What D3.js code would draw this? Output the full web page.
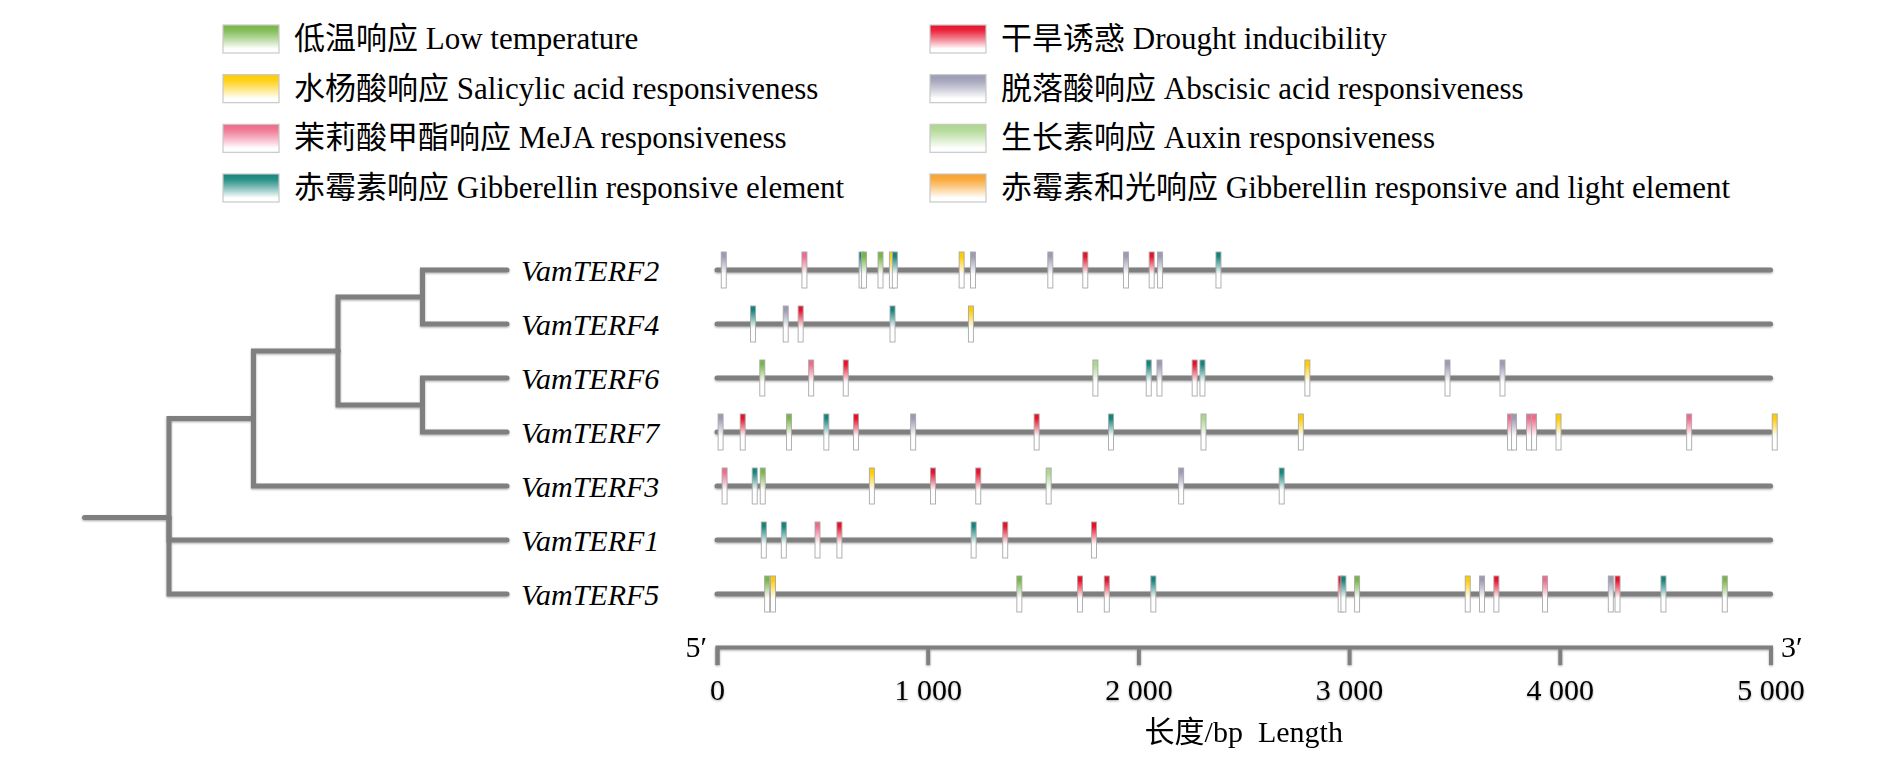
<!DOCTYPE html>
<html>
<head>
<meta charset="utf-8">
<script src="https://cdn.jsdelivr.net/npm/d3@7"></script>
<style>
  body { margin: 0; background: #fff; }
  text { font-family: "Liberation Serif", "Times New Roman", "Noto Sans CJK SC", serif; fill: #000; }
</style>
</head>
<body>
<div id="chart"></div>
<script>
// gene order top to bottom
const genes = ["VamTERF2", "VamTERF4", "VamTERF6", "VamTERF7", "VamTERF3", "VamTERF1", "VamTERF5"];

// element categories (legend order: left column then right column)
const elementKeys = ["LT", "SA", "MeJA", "GA", "DR", "ABA", "AUX", "GAL"];
const elementLabels = [
  "低温响应 Low temperature",
  "水杨酸响应 Salicylic acid responsiveness",
  "茉莉酸甲酯响应 MeJA responsiveness",
  "赤霉素响应 Gibberellin responsive element",
  "干旱诱惑 Drought inducibility",
  "脱落酸响应 Abscisic acid responsiveness",
  "生长素响应 Auxin responsiveness",
  "赤霉素和光响应 Gibberellin responsive and light element"
];
const elementColors = ["#78b648", "#ffcc00", "#ee6b8b", "#12857b", "#e8102a", "#9b9bb5", "#acd68e", "#f9a22b"];

// cis-element sites: [position bp, element]
const sitesTERF2 = [[32, "ABA"], [415, "MeJA"], [686, "GA"], [698, "LT"], [776, "LT"], [830, "SA"], [844, "GA"],
  [1161, "SA"], [1215, "ABA"], [1582, "ABA"], [1748, "DR"], [1941, "ABA"], [2063, "DR"], [2103, "ABA"], [2380, "GA"]];
const sitesTERF4 = [[171, "GA"], [326, "ABA"], [397, "DR"], [833, "GA"], [1205, "SA"]];
const sitesTERF6 = [[215, "LT"], [447, "MeJA"], [611, "DR"], [1796, "AUX"], [2049, "GA"], [2100, "ABA"], [2267, "DR"],
  [2304, "GA"], [2802, "SA"], [3467, "ABA"], [3728, "ABA"]];
const sitesTERF7 = [[17, "ABA"], [122, "DR"], [342, "LT"], [519, "GA"], [660, "DR"], [931, "ABA"], [1517, "DR"],
  [1870, "GA"], [2309, "AUX"], [2771, "SA"], [3764, "MeJA"], [3783, "ABA"], [3854, "MeJA"], [3878, "MeJA"],
  [3994, "SA"], [4614, "MeJA"], [5020, "SA"]];
const sitesTERF3 = [[36, "MeJA"], [179, "GA"], [217, "LT"], [735, "SA"], [1025, "DR"], [1240, "DR"], [1574, "AUX"],
  [2203, "ABA"], [2680, "GA"]];
const sitesTERF1 = [[222, "GA"], [317, "GA"], [477, "MeJA"], [581, "DR"], [1218, "GA"], [1368, "DR"], [1789, "DR"]];
const sitesTERF5 = [[238, "LT"], [266, "SA"], [1435, "LT"], [1723, "DR"], [1850, "DR"], [2071, "GA"], [2960, "DR"],
  [2973, "GA"], [3038, "LT"], [3563, "SA"], [3631, "ABA"], [3699, "DR"], [3930, "MeJA"], [4242, "ABA"],
  [4274, "DR"], [4492, "GA"], [4783, "LT"]];

const geneLength = [5000, 5000, 5000, 5000, 5000, 5000, 5000];
const axisTicks = [0, 1000, 2000, 3000, 4000, 5000];

// phylogeny
const treeData = {children: [
  {children: [
    {children: [
      {children: [{name: "VamTERF2"}, {name: "VamTERF4"}]},
      {children: [{name: "VamTERF6"}, {name: "VamTERF7"}]}
    ]},
    {name: "VamTERF3"}
  ]},
  {name: "VamTERF1"},
  {name: "VamTERF5"}
]};

const sitesByGene = {
  VamTERF2: sitesTERF2, VamTERF4: sitesTERF4, VamTERF6: sitesTERF6, VamTERF7: sitesTERF7,
  VamTERF3: sitesTERF3, VamTERF1: sitesTERF1, VamTERF5: sitesTERF5
};

const W = 1890, H = 768;
const svg = d3.select("#chart").append("svg").attr("width", W).attr("height", H);

const defs = svg.append("defs");
const shadow = defs.append("filter").attr("id", "shadow")
  .attr("x", "-5%").attr("y", "-100%").attr("width", "110%").attr("height", "300%");
shadow.append("feDropShadow").attr("dx", 0).attr("dy", 1).attr("stdDeviation", 1.2)
  .attr("flood-color", "#000").attr("flood-opacity", 0.35);

const colorOf = d3.scaleOrdinal().domain(elementKeys).range(elementColors);

elementKeys.forEach(function (k) {
  let g = defs.append("linearGradient").attr("id", "mk-" + k).attr("x1", 0).attr("x2", 0).attr("y1", 0).attr("y2", 1);
  g.append("stop").attr("offset", "0%").attr("stop-color", colorOf(k));
  g.append("stop").attr("offset", "12%").attr("stop-color", colorOf(k));
  g.append("stop").attr("offset", "62%").attr("stop-color", "#fff");
  g.append("stop").attr("offset", "100%").attr("stop-color", "#fff");

  let lg = defs.append("linearGradient").attr("id", "lg-" + k).attr("x1", 0).attr("x2", 0).attr("y1", 0).attr("y2", 1);
  lg.append("stop").attr("offset", "0%").attr("stop-color", colorOf(k));
  lg.append("stop").attr("offset", "20%").attr("stop-color", colorOf(k)).attr("stop-opacity", 0.9);
  lg.append("stop").attr("offset", "85%").attr("stop-color", "#fff");
  lg.append("stop").attr("offset", "100%").attr("stop-color", "#fff");
});

// scales
const x = d3.scaleLinear().domain([0, 5000]).range([717, 1770.5]);
const y = d3.scalePoint().domain(genes).range([270, 594]);
const xTree = d3.scaleLinear().domain([0, 4]).range([169, 507]);
const lineColor = "#7f7f7f";

// legend
const legendCol = d3.scaleOrdinal().domain([0, 1]).range([223, 930]);
const legendRow = d3.scaleLinear().domain([0, 3]).range([25, 174]);
const legend = svg.append("g");
const legendItem = legend.selectAll("g").data(elementKeys).enter().append("g")
  .attr("transform", function (d, i) {
    return "translate(" + legendCol(Math.floor(i / 4)) + "," + legendRow(i % 4) + ")";
  });
legendItem.append("rect")
  .attr("width", 56).attr("height", 28)
  .attr("fill", function (d) { return "url(#lg-" + d + ")"; })
  .attr("stroke", "#c8c8c8").attr("stroke-width", 1.2);
legendItem.append("text")
  .attr("x", 71).attr("y", 24)
  .style("font-size", "31px")
  .text(function (d, i) { return elementLabels[i]; });

// tree
const root = d3.hierarchy(treeData);
root.eachAfter(function (n) {
  n.px = xTree(root.height - n.height);
  n.py = n.children ? d3.mean(n.children, function (c) { return c.py; }) : y(n.data.name);
});
const treeG = svg.append("g").attr("filter", "url(#shadow)")
  .attr("fill", "none").attr("stroke", lineColor).attr("stroke-width", 5).attr("stroke-linecap", "round");
treeG.selectAll("path.link").data(root.descendants().slice(1)).enter().append("path")
  .attr("class", "link")
  .attr("d", function (n) {
    return "M" + n.parent.px + "," + n.parent.py + "V" + n.py + "H" + n.px;
  });
treeG.append("path")
  .attr("d", "M" + xTree(-1) + "," + root.py + "H" + root.px);

svg.append("g").selectAll("text").data(genes).enter().append("text")
  .attr("x", 521).attr("y", function (d) { return y(d) + 11; })
  .style("font-size", "30px").style("font-style", "italic")
  .text(function (d) { return d; });

// gene lines
svg.append("g").attr("filter", "url(#shadow)")
  .selectAll("line").data(genes).enter().append("line")
  .attr("x1", x(0))
  .attr("x2", function (d, i) { return x(geneLength[i]); })
  .attr("y1", function (d) { return y(d); })
  .attr("y2", function (d) { return y(d); })
  .attr("stroke", lineColor).attr("stroke-width", 5).attr("stroke-linecap", "round");

// cis-element markers
const rows = svg.append("g").selectAll("g").data(genes).enter().append("g")
  .attr("transform", function (d) { return "translate(0," + y(d) + ")"; });
rows.selectAll("rect").data(function (d) { return sitesByGene[d]; }).enter().append("rect")
  .attr("x", function (d) { return x(d[0]) - 2.5; })
  .attr("y", -18)
  .attr("width", 5).attr("height", 36)
  .attr("fill", function (d) { return "url(#mk-" + d[1] + ")"; })
  .attr("stroke", "#a8a8a8").attr("stroke-width", 0.9);

// length axis
const axis = d3.axisBottom(x)
  .tickValues(axisTicks)
  .tickSize(18).tickSizeOuter(18).tickPadding(14)
  .tickFormat(function (d) { return d === 0 ? "0" : d3.format(",")(d).replace(",", " "); });
const axisG = svg.append("g")
  .attr("transform", "translate(0,647)")
  .call(axis);
axisG.attr("filter", "url(#shadow)");
axisG.selectAll("path, line").attr("stroke", lineColor).attr("stroke-width", 4);
axisG.selectAll("text")
  .style("font-size", "30px")
  .style("font-family", "'Liberation Serif', serif")
  .attr("fill", "#000");

svg.append("text").attr("x", 707).attr("y", 657).attr("text-anchor", "end")
  .style("font-size", "30px").text("5\u2032");
svg.append("text").attr("x", 1781).attr("y", 657)
  .style("font-size", "30px").text("3\u2032");

svg.append("text")
  .attr("x", (x(0) + x(5000)) / 2).attr("y", 742)
  .attr("text-anchor", "middle")
  .style("font-size", "30px").style("white-space", "pre")
  .text("长度/bp  Length");
</script>
</body>
</html>
